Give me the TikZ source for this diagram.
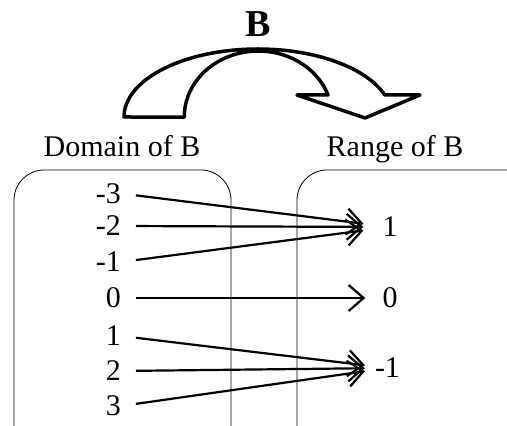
\documentclass[tikz,border=0pt]{standalone}
\usepackage{fontspec}
\setmainfont{Liberation Serif}
\usetikzlibrary{positioning,
				arrows.meta,
				calc}

\begin{document}
\begin{tikzpicture}[x=1pt,y=1pt,
		dom/.style={anchor=east,inner sep=0pt,font=\fontsize{30}{36}\selectfont},
		ran/.style={inner sep=0pt,font=\fontsize{30}{36}\selectfont},
		maparrow/.style={line width=2.2pt,-{Straight Barb[length=15pt,width=26pt]},shorten <=15pt}]
		\useasboundingbox (0,0) rectangle (507,426);
		% the big curved arrow
		\draw[line width=3.5pt,line join=round] (124,309) arc (180:18.9:134 and 68) -- (420,331) -- (365,308) -- (297,331) -- (328,331) arc (19.5:180:74 and 66) -- cycle;
		\node (title) at (258,402) {\fontsize{38}{40}\selectfont\bfseries B};
		\node[ran,anchor=base] (domlab) at (122,269) {Domain of B};
		\node[ran,anchor=base] (ranlab) at (395,269) {Range of B};
		% the two sets
		\draw[line width=0.8pt,rounded corners=30pt] (14,-40) rectangle (231,256);
		\draw[line width=0.8pt,rounded corners=30pt] (297,-40) rectangle (560,256);
		\node[dom] (dm3) at (121,232.5) {-3};
		\node[dom] (dm2) at (121,200) {-2};
		\node[dom] (dm1) at (121,164) {-1};
		\node[dom] (d0) at (121,128) {0};
		\node[dom] (d1) at (121,90) {1};
		\node[dom] (d2) at (121,55) {2};
		\node[dom] (d3) at (121,20) {3};
		\node[ran] (r1) at (390,199) {1};
		\node[ran] (r0) at (390,128) {0};
		\node[ran] (rm1) at (387.5,58) {-1};
		% the mapping
		\draw[maparrow,shorten >=19pt] (dm3.east) -- (r1);
		\draw[maparrow,shorten >=19pt] (dm2.east) -- (r1);
		\draw[maparrow,shorten >=19pt] (dm1.east) -- (r1);
		\draw[maparrow,shorten >=17pt] (d0.east) -- (r0);
		\draw[maparrow,shorten >=10pt] (d1.east) -- (rm1);
		\draw[maparrow,shorten >=10pt] (d2.east) -- (rm1);
		\draw[maparrow,shorten >=10pt] (d3.east) -- (rm1);
	\end{tikzpicture}
\end{document}
